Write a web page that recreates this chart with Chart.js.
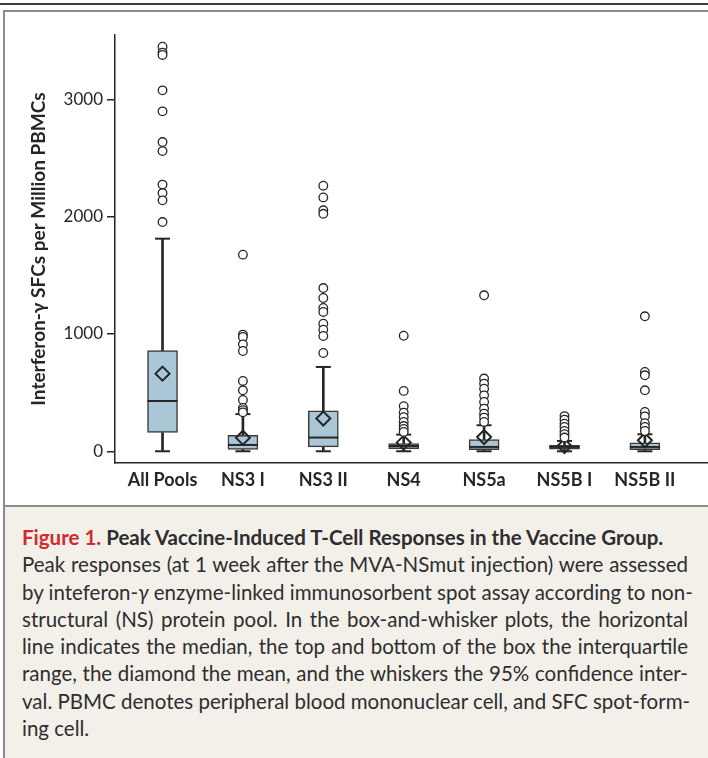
<!DOCTYPE html>
<html>
<head>
<meta charset="utf-8">
<script src="https://cdn.jsdelivr.net/npm/chart.js@4.4.1/dist/chart.umd.min.js"></script>
<style>
  html, body { margin: 0; padding: 0; background: #fff; }
  body { width: 708px; height: 758px; position: relative; overflow: hidden; font-family: Lato, "Noto Sans", sans-serif; }
  #topline { position: absolute; left: 0; top: 3px; width: 708px; height: 2px; background: #3c3c3c; }
  #frame { position: absolute; left: 3px; top: 10px; width: 705px; height: 748px; border-left: 2px solid #8c8c8c; border-top: 2px solid #8c8c8c; box-sizing: border-box; }
  #chartbox { position: absolute; left: 5px; top: 12px; width: 703px; height: 493px; }
  #caption { position: absolute; left: 5px; top: 505px; width: 703px; height: 253px; border-top: 2px solid #8c8c8c; background: #f3f0ea; box-sizing: border-box; padding: 17px 20px 0 17px; color: #2e2e2e; font-size: 20.5px; line-height: 27.3px; }
  #caption .ttl { font-weight: bold; }
  #caption .ttl .fig { color: #d22a2f; }
  #caption .ln { text-align: justify; text-align-last: justify; white-space: nowrap; }
  #caption .last { text-align-last: left; }
</style>
</head>
<body>
<div id="topline"></div>
<div id="frame"></div>
<div id="chartbox"><canvas id="grafico" width="703" height="493"></canvas></div>
<div id="caption">
  <div class="ttl"><span class="fig">Figure 1.</span> Peak Vaccine-Induced T-Cell Responses in the Vaccine Group.</div>
  <div class="ln">Peak responses (at 1 week after the MVA-NSmut injection) were assessed</div>
  <div class="ln">by inteferon-<i>γ</i> enzyme-linked immunosorbent spot assay according to non-</div>
  <div class="ln">structural (NS) protein pool. In the box-and-whisker plots, the horizontal</div>
  <div class="ln">line indicates the median, the top and bottom of the box the interquartile</div>
  <div class="ln">range, the diamond the mean, and the whiskers the 95% confidence inter-</div>
  <div class="ln">val. PBMC denotes peripheral blood mononuclear cell, and SFC spot-form-</div>
  <div class="ln last">ing cell.</div>
</div>
<script>
"use strict";

////////////////////////////////////////////////////// datos
const categorias = ["All Pools", "NS3 I", "NS3 II", "NS4", "NS5a", "NS5B I", "NS5B II"];
const cuartil1 = [160, 16, 37, 23, 14, 17, 14];
const cuartil3 = [858, 137, 344, 66, 100, 51, 71];
const medianas = [429, 54, 117, 45, 37, 37, 37];
const medias = [662, 116, 279, 74, 122, 45, 94];
const bigoteBajo = [0, 0, 0, 0, 0, 0, 0];
const bigoteAlto = [1813, 317, 719, 142, 222, 88, 145];
const atipicos = [
    [3450, 3400, 3380, 3078, 2899, 2637, 2560, 2274, 2202, 2140, 1955],
    [1677, 995, 975, 912, 855, 600, 520, 438, 370, 350, 332],
    [2265, 2165, 2055, 2025, 1392, 1307, 1222, 1188, 1088, 1037, 983, 838],
    [985, 515, 385, 330, 290, 250, 215, 190, 165],
    [1330, 620, 577, 534, 477, 420, 364, 321, 287, 250],
    [300, 270, 235, 207, 173, 145, 117],
    [1151, 676, 648, 520, 335, 298, 240, 207, 173],
];
const ticksY = [0, 1000, 2000, 3000];

////////////////////////////////////////////////////// colores
const colorLinea = "#262626";
const colorCaja = "#a9c7d7";

////////////////////////////////////////////////////// construir datasets
var cajas = [], bigInf = [], bigSup = [], med = [], media = [], topes = [], puntos = [];
categorias.forEach((c, i) => {
    cajas.push({ x: i, y: [cuartil1[i], cuartil3[i]] });
    bigInf.push({ x: i, y: [bigoteBajo[i], cuartil1[i]] });
    bigSup.push({ x: i, y: [cuartil3[i], bigoteAlto[i]] });
    med.push({ x: i, y: medianas[i] });
    media.push({ x: i, y: medias[i] });
    topes.push({ x: i, y: bigoteBajo[i] });
    topes.push({ x: i, y: bigoteAlto[i] });
    atipicos[i].forEach((v) => puntos.push({ x: i, y: v }));
});

function puntosSueltos(data, estilo, radio, fondo, orden) {
    return {
        type: "line",
        data: data,
        showLine: false,
        pointStyle: estilo,
        pointRadius: radio,
        pointHoverRadius: radio,
        pointBorderWidth: estilo === "circle" ? 1.3 : 2,
        pointBorderColor: colorLinea,
        pointBackgroundColor: fondo,
        order: orden,
    };
}

////////////////////////////////////////////////////// grafico
const ctx = document.getElementById("grafico").getContext("2d");
new Chart(ctx, {
    type: "bar",
    data: {
        datasets: [
            { data: bigInf, backgroundColor: colorLinea, borderWidth: 0, barThickness: 2, grouped: false, order: 9 },
            { data: bigSup, backgroundColor: colorLinea, borderWidth: 0, barThickness: 2, grouped: false, order: 9 },
            {
                data: cajas,
                backgroundColor: colorCaja,
                borderColor: "#3a3a3a",
                borderWidth: 1.5,
                borderSkipped: false,
                barThickness: 30,
                grouped: false,
                order: 8,
            },
            puntosSueltos(med, "line", 15, colorLinea, 7),
            puntosSueltos(topes, "line", 7.5, colorLinea, 6),
            puntosSueltos(media, "rectRot", 7, "rgba(0,0,0,0)", 5),
            puntosSueltos(puntos, "circle", 4.3, "#ffffff", 4),
        ],
    },
    options: {
        responsive: false,
        animation: false,
        events: [],
        layout: { autoPadding: false, padding: { top: 23, left: 0, right: 0, bottom: 0 } },
        plugins: { legend: { display: false }, tooltip: { enabled: false } },
        scales: {
            x: {
                type: "linear",
                offset: false,
                bounds: "data",
                min: -0.591,
                max: 6.785,
                grid: { display: true, drawOnChartArea: false, drawTicks: false },
                border: { display: true, color: colorLinea, width: 1.5 },
                afterBuildTicks: (axis) => { axis.ticks = categorias.map((c, i) => ({ value: i })); },
                afterFit: (axis) => {
                    axis.height = 42;
                    axis.paddingLeft = 0;
                    axis.paddingRight = 0;
                },
                ticks: {
                    padding: 6,
                    color: colorLinea,
                    font: { family: "Lato", size: 18, weight: "bold" },
                    callback: (v) => categorias[v],
                    maxRotation: 0,
                    autoSkip: false,
                },
            },
            y: {
                min: -100,
                max: 3550,
                grid: { display: true, drawOnChartArea: false, drawTicks: true, tickLength: 8, color: colorLinea, lineWidth: 1.5 },
                border: { display: true, color: colorLinea, width: 1.5 },
                afterBuildTicks: (axis) => { axis.ticks = ticksY.map((v) => ({ value: v })); },
                afterFit: (axis) => { axis.width = 110; },
                ticks: {
                    padding: 4,
                    color: colorLinea,
                    font: { family: "Lato", size: 17 },
                    callback: (v) => String(v),
                },
                title: {
                    display: true,
                    text: "Interferon-γ SFCs per Million PBMCs",
                    color: colorLinea,
                    font: { family: "Lato", size: 19, weight: "bold" },
                    padding: { top: 22, bottom: 0 },
                },
            },
        },
    },
});
</script>
</body>
</html>
